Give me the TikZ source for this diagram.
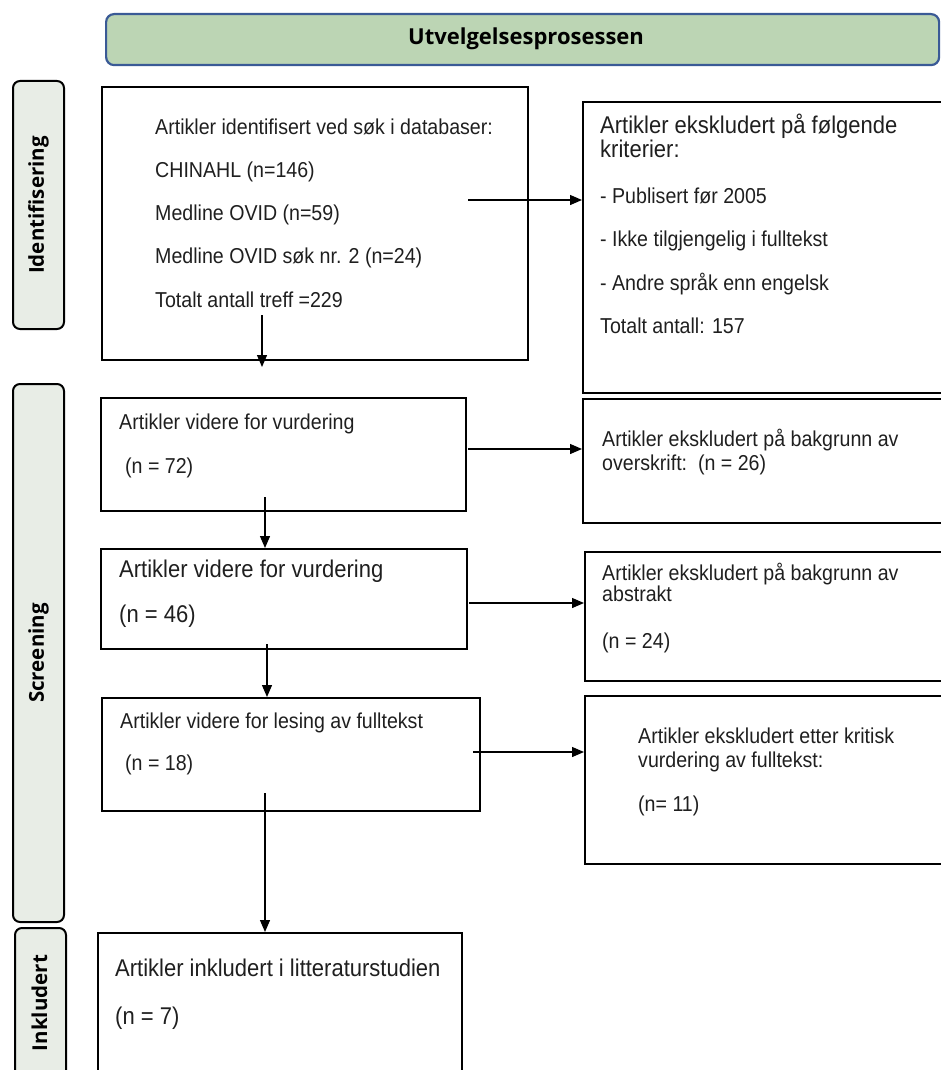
\documentclass[tikz,border=0pt]{standalone}
\usepackage{fontspec}
\setmainfont{Liberation Sans}
\newfontfamily\lblfont{Open Sans}
\usetikzlibrary{arrows.meta}
\definecolor{bannerfill}{HTML}{BCD5B4}
\definecolor{bannerdraw}{HTML}{3A5A96}
\definecolor{phasefill}{HTML}{E8EDE6}
\newcommand\tx[1]{\scalebox{1}[1.1]{#1}}
\tikzset{
  panel/.style={draw=black, line width=2.4pt, inner sep=0pt, anchor=north west},
  phase/.style={draw=black, line width=2pt, fill=phasefill, rounded corners=7pt, inner sep=0pt, anchor=north west},
  banner/.style={draw=bannerdraw, line width=2.2pt, fill=bannerfill, rounded corners=8pt, inner sep=0pt, anchor=north west},
  ts/.style={inner sep=0pt, anchor=base west, text=black!88, font=\fontsize{19.6}{22}\selectfont},
  tl/.style={inner sep=0pt, anchor=base west, text=black!88, font=\fontsize{22}{25}\selectfont},
  lbl/.style={inner sep=0pt, font=\lblfont\bfseries\fontsize{20.5}{24}\selectfont},
  conn/.style={line width=1.3pt, -{Triangle[length=12pt,width=10pt]}}
}
\begin{document}
\begin{tikzpicture}[x=1pt,y=-1pt]
\useasboundingbox (0,0) rectangle (941,1070);
\clip (0,0) rectangle (941,1070);

% banner
\node[banner, minimum width=833pt, minimum height=51pt] (ban) at (105,13) {};
\node[lbl, font=\lblfont\bfseries\fontsize{22}{24}\selectfont] (bantxt) at (526,38.5) {Utvelgelsesprosessen};

% phase labels
\node[phase, minimum width=51pt, minimum height=248pt] (idb) at (12,80) {};
\node[lbl, rotate=90] (idt) at (idb.center) {Identifisering};
\node[phase, minimum width=51pt, minimum height=538pt] (scb) at (12,383) {};
\node[lbl, rotate=90] (sct) at (scb.center) {Screening};
\node[phase, minimum width=51pt, minimum height=170pt] (inb) at (14,927) {};
\node[lbl, rotate=90] (int) at (39.5,1003) {Inkludert};

% main boxes
\node[panel, minimum width=426pt, minimum height=273pt] (b1) at (101,86) {};
\node[panel, minimum width=380pt, minimum height=291pt] (r1) at (582,101) {};
\node[panel, minimum width=365pt, minimum height=113pt] (b2) at (100,397) {};
\node[panel, minimum width=380pt, minimum height=124pt] (r2) at (582,398) {};
\node[panel, minimum width=366pt, minimum height=100pt] (b3) at (100,548) {};
\node[panel, minimum width=378pt, minimum height=129pt] (r3) at (584,551) {};
\node[panel, minimum width=378pt, minimum height=113pt] (b4) at (101,697) {};
\node[panel, minimum width=378pt, minimum height=168pt] (r4) at (584,695) {};
\node[panel, minimum width=364pt, minimum height=160pt] (b5) at (97,932) {};

% texts B1
\node[ts] (b1l1) at (155,135) {\tx{Artikler identifisert ved søk i databaser:}};
\node[ts] (b1l2) at (155,177.7) {\tx{CHINAHL (n=146)}};
\node[ts] (b1l3) at (155,220.7) {\tx{Medline OVID (n=59)}};
\node[ts] (b1l4) at (155,263.3) {\tx{Medline OVID søk nr. 2 (n=24)}};
\node[ts] (b1l5) at (155,307.7) {\tx{Totalt antall treff =229}};
% texts R1
\node[tl] (r1l1) at (600,133.3) {\tx{Artikler ekskludert på følgende}};
\node[tl] (r1l2) at (600,157.3) {\tx{kriterier:}};
\node[ts] (r1l3) at (600,203.3) {\tx{- Publisert før 2005}};
\node[ts] (r1l4) at (600,246.7) {\tx{- Ikke tilgjengelig i fulltekst}};
\node[ts] (r1l5) at (600,290) {\tx{- Andre språk enn engelsk}};
\node[ts] (r1l6) at (600,333.3) {\tx{Totalt antall: 157}};
% B2 / R2
\node[ts] (b2l1) at (119,429.3) {\tx{Artikler videre for vurdering}};
\node[ts] (b2l2) at (125,473) {\tx{(n = 72)}};
\node[ts] (r2l1) at (602,446.7) {\tx{Artikler ekskludert på bakgrunn av}};
\node[ts] (r2l2) at (602,470) {\tx{overskrift:\ \ (n = 26)}};
% B3 / R3
\node[tl] (b3l1) at (119,577.7) {\tx{Artikler videre for vurdering}};
\node[tl] (b3l2) at (119,622.7) {\tx{(n = 46)}};
\node[ts] (r3l1) at (602,580) {\tx{Artikler ekskludert på bakgrunn av}};
\node[ts] (r3l2) at (602,601.7) {\tx{abstrakt}};
\node[ts] (r3l3) at (602,648.3) {\tx{(n = 24)}};
% B4 / R4
\node[ts] (b4l1) at (120,728.3) {\tx{Artikler videre for lesing av fulltekst}};
\node[ts] (b4l2) at (125,770) {\tx{(n = 18)}};
\node[ts] (r4l1) at (638,743.3) {\tx{Artikler ekskludert etter kritisk}};
\node[ts] (r4l2) at (638,767.3) {\tx{vurdering av fulltekst:}};
\node[ts] (r4l3) at (638,811.7) {\tx{(n= 11)}};
% B5
\node[tl] (b5l1) at (115,976.7) {\tx{Artikler inkludert i litteraturstudien}};
\node[tl] (b5l2) at (115,1024) {\tx{(n = 7)}};

% connectors
\coordinate (a1s) at (468,200);
\draw[conn] (a1s) -- (a1s -| r1.west);
\coordinate (a2s) at (468,449);
\draw[conn] (a2s) -- (a2s -| r2.west);
\coordinate (a3s) at (469,603);
\draw[conn] (a3s) -- (a3s -| r3.west);
\coordinate (a4s) at (473,752);
\draw[conn] (a4s) -- (a4s -| r4.west);

\coordinate (d1s) at (262,315);
\coordinate (d1e) at (262,367);
\draw[conn] (d1s) -- (d1e);
\coordinate (d2s) at (265,497);
\draw[conn] (d2s) -- (d2s |- b3.north);
\coordinate (d3s) at (267,644);
\draw[conn] (d3s) -- (d3s |- b4.north);
\coordinate (d4s) at (265,793);
\draw[conn] (d4s) -- (d4s |- b5.north);
\end{tikzpicture}
\end{document}
